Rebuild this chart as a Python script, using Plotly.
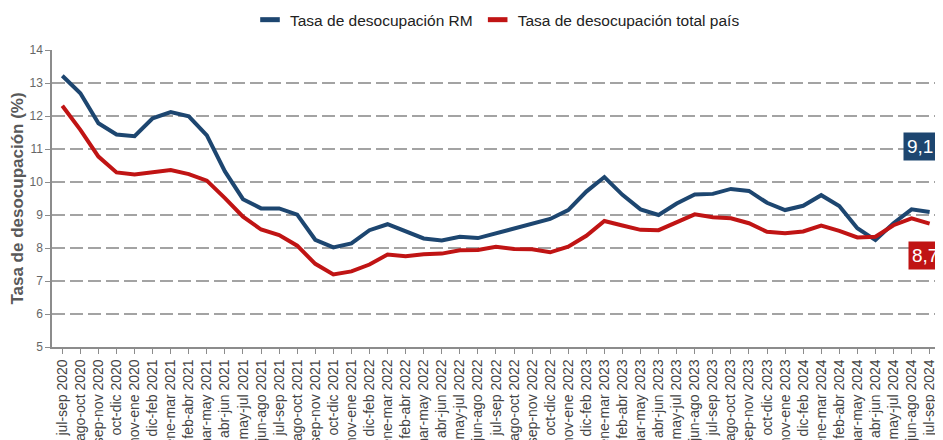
import plotly.graph_objects as go

periodos = [
    "jul-sep 2020", "ago-oct 2020", "sep-nov 2020", "oct-dic 2020", "nov-ene 2020",
    "dic-feb 2021", "ene-mar 2021", "feb-abr 2021", "mar-may 2021", "abr-jun 2021",
    "may-jul 2021", "jun-ago 2021", "jul-sep 2021", "ago-oct 2021", "sep-nov 2021",
    "oct-dic 2021", "nov-ene 2021", "dic-feb 2022", "ene-mar 2022", "feb-abr 2022",
    "mar-may 2022", "abr-jun 2022", "may-jul 2022", "jun-ago 2022", "jul-sep 2022",
    "ago-oct 2022", "sep-nov 2022", "oct-dic 2022", "nov-ene 2022", "dic-feb 2023",
    "ene-mar 2023", "feb-abr 2023", "mar-may 2023", "abr-jun 2023", "may-jul 2023",
    "jun-ago 2023", "jul-sep 2023", "ago-oct 2023", "sep-nov 2023", "oct-dic 2023",
    "nov-ene 2023", "dic-feb 2024", "ene-mar 2024", "feb-abr 2024", "mar-may 2024",
    "abr-jun 2024", "may-jul 2024", "jun-ago 2024", "jul-sep 2024",
]

tasa_rm = [
    13.22, 12.69, 11.78, 11.44, 11.39, 11.93, 12.12, 11.99, 11.41, 10.32,
    9.48, 9.20, 9.20, 9.01, 8.25, 8.02, 8.14, 8.54, 8.72, 8.49,
    8.29, 8.23, 8.34, 8.30, 8.44, 8.58, 8.75, 8.88, 9.15, 9.71,
    10.15, 9.61, 9.17, 9.00, 9.35, 9.62, 9.64, 9.79, 9.73, 9.37,
    9.15, 9.28, 9.60, 9.27, 8.60, 8.24, 8.75, 9.17, 9.09,
]

tasa_pais = [
    12.31, 11.58, 10.77, 10.29, 10.23, 10.31, 10.36, 10.24, 10.04, 9.51,
    8.95, 8.56, 8.39, 8.07, 7.52, 7.20, 7.29, 7.50, 7.80, 7.75,
    7.81, 7.83, 7.93, 7.94, 8.04, 7.97, 7.96, 7.87, 8.04, 8.37,
    8.82, 8.68, 8.55, 8.54, 8.78, 9.02, 8.93, 8.90, 8.75, 8.49,
    8.45, 8.50, 8.68, 8.52, 8.32, 8.34, 8.69, 8.90, 8.74,
]

y_ticks = [5, 6, 7, 8, 9, 10, 11, 12, 13, 14]

AZUL = "#1d4670"
ROJO = "#c01414"
FONT = "Liberation Sans, Arial, sans-serif"

fig = go.Figure()

fig.add_trace(go.Scatter(
    x=periodos, y=tasa_rm, mode="lines",
    line=dict(color=AZUL, width=4), showlegend=False,
    name="Tasa de desocupación RM",
))
fig.add_trace(go.Scatter(
    x=periodos, y=tasa_pais, mode="lines",
    line=dict(color=ROJO, width=4), showlegend=False,
    name="Tasa de desocupación total país",
))

# legend-only entries (short thick line symbols)
for nombre, color in [("Tasa de desocupación RM", AZUL),
                      ("Tasa de desocupación total país", ROJO)]:
    fig.add_trace(go.Scatter(
        x=[None], y=[None], mode="markers", name=nombre,
        marker=dict(symbol="line-ew-open", size=14, color=color,
                    line=dict(width=5, color=color)),
    ))

def fmt(v):
    return f"{v:.1f}".replace(".", ",")

fig.add_annotation(
    x=periodos[-1], y=tasa_rm[-1], xref="x", yref="y",
    text=fmt(tasa_rm[-1]), showarrow=False,
    xanchor="left", yanchor="middle", xshift=-27, yshift=66,
    font=dict(family=FONT, size=19, color="white"),
    bgcolor=AZUL, borderpad=3,
)
fig.add_annotation(
    x=periodos[-1], y=tasa_pais[-1], xref="x", yref="y",
    text=fmt(tasa_pais[-1]), showarrow=False,
    xanchor="left", yanchor="middle", xshift=-22, yshift=-32,
    font=dict(family=FONT, size=19, color="white"),
    bgcolor=ROJO, borderpad=3,
)

fig.update_layout(
    width=935, height=432,
    margin=dict(l=44, r=0, t=42, b=93, autoexpand=False),
    paper_bgcolor="white", plot_bgcolor="white",
    font=dict(family=FONT),
    legend=dict(
        orientation="h", x=0.5, xanchor="center",
        yref="container", y=0.972, yanchor="middle",
        font=dict(family=FONT, size=15.5, color="#222222"),
        itemwidth=30, tracegroupgap=0,
    ),
    xaxis=dict(
        type="category", range=[-0.57, 48.74], automargin=False,
        tickangle=-90, tickfont=dict(family=FONT, size=14, color="#444444"),
        showgrid=False, showline=True, linecolor="#8c8c8c", linewidth=1.5,
        ticks="outside", ticklen=5, tickcolor="#8c8c8c", tickwidth=1.2,
        zeroline=False,
    ),
    yaxis=dict(
        range=[5, 14], tickvals=y_ticks, automargin=False,
        tickfont=dict(family=FONT, size=12, color="#666666"),
        showgrid=True, gridcolor="#a3a3a3", gridwidth=2, griddash="13px,5px",
        showline=True, linecolor="#8c8c8c", linewidth=1.5,
        ticks="outside", ticklen=5, tickcolor="#8c8c8c", tickwidth=1.2,
        zeroline=False,
        title=dict(text="<b>Tasa de desocupación (%)</b>",
                   font=dict(family=FONT, size=17, color="#595959"),
                   standoff=8),
    ),
)

fig.write_html("out.html")
